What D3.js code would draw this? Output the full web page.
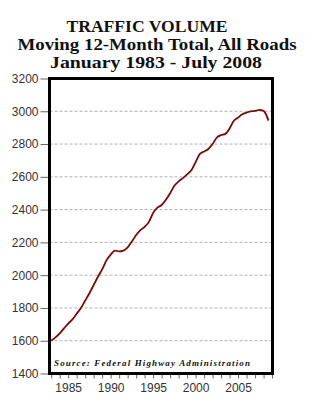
<!DOCTYPE html>
<html>
<head>
<meta charset="utf-8">
<script src="https://cdn.jsdelivr.net/npm/d3@7"></script>
<style>
  body { margin: 0; background: #fff; }
  svg { display: block; }
</style>
</head>
<body>
<div id="chart"></div>
<script>
// values (billions of vehicle miles, 12-month total)
const years = [1983.0, 1983.5, 1984.0, 1984.5, 1985.0, 1985.5, 1986.0, 1986.5, 1987.0, 1987.5,
  1988.0, 1988.5, 1989.0, 1989.5, 1990.0, 1990.5, 1991.0, 1991.5, 1992.0, 1992.5,
  1993.0, 1993.5, 1994.0, 1994.5, 1995.0, 1995.5, 1996.0, 1996.5, 1997.0, 1997.5,
  1998.0, 1998.5, 1999.0, 1999.5, 2000.0, 2000.5, 2001.0, 2001.5, 2002.0, 2002.5,
  2003.0, 2003.5, 2004.0, 2004.5, 2005.0, 2005.5, 2006.0, 2006.5, 2007.0, 2007.5,
  2008.0, 2008.25, 2008.58];
const volume = [1600, 1620, 1645, 1675, 1705, 1730, 1765, 1800, 1845, 1890,
  1940, 1990, 2035, 2090, 2125, 2150, 2145, 2150, 2170, 2205,
  2245, 2275, 2295, 2325, 2380, 2412, 2428, 2460, 2500, 2545,
  2572, 2592, 2615, 2640, 2690, 2740, 2755, 2770, 2800, 2840,
  2855, 2862, 2895, 2942, 2962, 2982, 2992, 3000, 3002, 3008,
  3003, 2985, 2943];

const yTicks = [1400, 1600, 1800, 2000, 2200, 2400, 2600, 2800, 3000, 3200];
const xLabels = [1985, 1990, 1995, 2000, 2005];
const titleLines = ["TRAFFIC VOLUME", "Moving 12-Month Total, All Roads", "January 1983 - July 2008"];
const sourceNote = "Source: Federal Highway Administration";

const width = 311, height = 400;
const plot = { left: 49.5, right: 272.5, top: 78.5, bottom: 373.5 };

const svg = d3.select("#chart").append("svg")
    .attr("width", width)
    .attr("height", height);

const x = d3.scaleLinear().domain([1982.8, 2009.05]).range([plot.left, plot.right]);
const y = d3.scaleLinear().domain([1400, 3200]).range([plot.bottom, plot.top]);

// titles (stretched to the widths seen in the original)
const titleY = [31.5, 49.5, 67.5];
const titleX = [147, 157, 156];
const titleW = [161, 279, 212];
svg.selectAll(".title")
  .data(titleLines)
  .enter().append("text")
    .attr("class", "title")
    .attr("x", (d, i) => titleX[i])
    .attr("y", (d, i) => titleY[i])
    .attr("text-anchor", "middle")
    .attr("textLength", (d, i) => titleW[i])
    .attr("lengthAdjust", "spacingAndGlyphs")
    .style("font-family", "'Liberation Serif', 'Times New Roman', serif")
    .style("font-weight", "bold")
    .style("font-size", "16px")
    .style("fill", "#111")
    .text(d => d);

// dashed gridlines
svg.append("g")
  .selectAll("line")
  .data(yTicks.filter(d => d > 1400 && d < 3200))
  .enter().append("line")
    .attr("x1", plot.left).attr("x2", plot.right)
    .attr("y1", d => y(d)).attr("y2", d => y(d))
    .attr("stroke", "#b0b0b0")
    .attr("stroke-width", 1)
    .attr("stroke-dasharray", "3,2");

// y axis
const yAxis = svg.append("g")
    .attr("transform", `translate(${plot.left - 1},0)`)
    .call(d3.axisLeft(y).tickValues(yTicks).tickSize(8).tickPadding(2).tickFormat(d3.format("d")));
yAxis.select(".domain").remove();
yAxis.selectAll("line").attr("stroke", "#666");
yAxis.selectAll("text")
    .style("font-family", "'Liberation Sans', Arial, sans-serif")
    .style("font-size", "12px")
    .style("fill", "#333");

// x axis: minor ticks each year, labels every five
const xAxis = svg.append("g")
    .attr("transform", `translate(0,${plot.bottom + 1})`)
    .call(d3.axisBottom(x).tickValues(d3.range(1983, 2010)).tickSize(4).tickPadding(5)
      .tickFormat(d => xLabels.includes(d) ? d : ""));
xAxis.select(".domain").remove();
xAxis.selectAll("line").attr("stroke", "#666");
xAxis.selectAll("text")
    .style("font-family", "'Liberation Sans', Arial, sans-serif")
    .style("font-size", "12px")
    .style("fill", "#333");

// data line
const line = d3.line()
    .x((d, i) => x(years[i]))
    .y(d => y(d))
    .curve(d3.curveMonotoneX);

svg.append("path")
    .datum(volume)
    .attr("d", line)
    .attr("fill", "none")
    .attr("stroke", "#7a0a0a")
    .attr("stroke-width", 1.8);

// source note
svg.append("text")
    .attr("x", 54)
    .attr("y", 366)
    .attr("textLength", 196)
    .style("font-family", "'Liberation Serif', 'Times New Roman', serif")
    .style("font-weight", "bold")
    .style("font-style", "italic")
    .style("font-size", "9px")
    .style("fill", "#111")
    .text(sourceNote);

// frame
svg.append("rect")
    .attr("x", plot.left).attr("y", plot.top)
    .attr("width", plot.right - plot.left).attr("height", plot.bottom - plot.top)
    .attr("fill", "none")
    .attr("stroke", "#000")
    .attr("stroke-width", 3);
</script>
</body>
</html>
